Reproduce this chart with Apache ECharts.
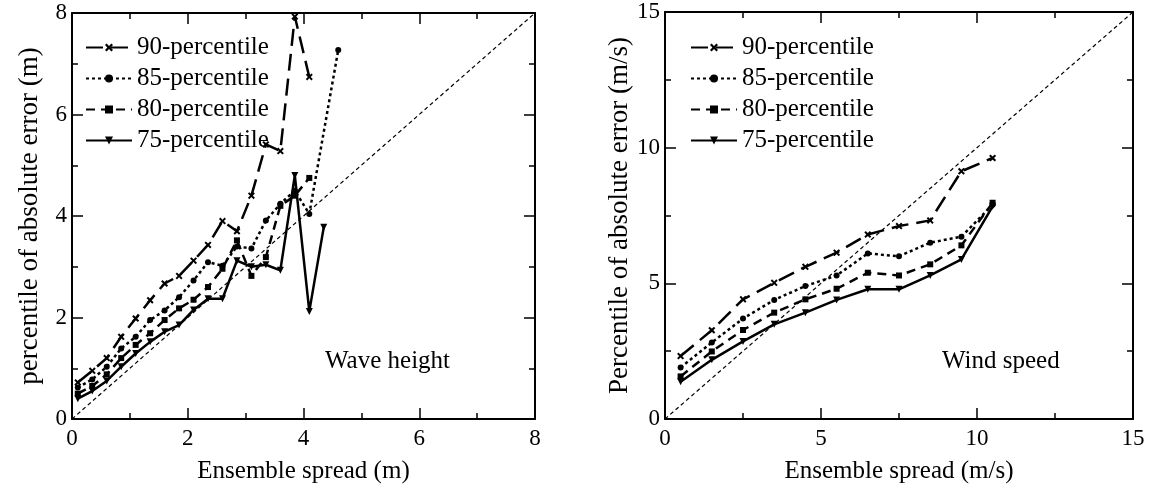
<!DOCTYPE html>
<html><head><meta charset="utf-8">
<script src="https://cdn.jsdelivr.net/npm/echarts@6/dist/echarts.min.js"></script>
<style>html,body{margin:0;padding:0;background:#fff}#c{width:1154px;height:489px}</style>
</head><body><div id="c"></div>
<script>
// ---- data ----
const seriesNames = ['90-percentile', '85-percentile', '80-percentile', '75-percentile'];

const waveX = [0.1, 0.35, 0.6, 0.85, 1.1, 1.35, 1.6, 1.85, 2.1, 2.35, 2.6, 2.85, 3.1, 3.35, 3.6, 3.85, 4.1, 4.35, 4.6];
const wave90 = [0.72, 0.95, 1.2, 1.62, 1.98, 2.34, 2.67, 2.82, 3.12, 3.43, 3.9, 3.7, 4.4, 5.41, 5.28, 7.93, 6.74];
const wave85 = [0.62, 0.78, 1.03, 1.39, 1.62, 1.95, 2.14, 2.4, 2.73, 3.09, 3.02, 3.4, 3.36, 3.91, 4.24, 4.5, 4.04, null, 7.27];
const wave80 = [0.5, 0.65, 0.88, 1.2, 1.46, 1.69, 1.95, 2.18, 2.35, 2.6, 2.96, 3.52, 2.82, 3.19, 4.2, 4.4, 4.75];
const wave75 = [0.4, 0.55, 0.75, 1.03, 1.29, 1.52, 1.72, 1.85, 2.15, 2.37, 2.37, 3.12, 3.0, 3.04, 2.93, 4.8, 2.12, 3.78];

const windX = [0.5, 1.5, 2.5, 3.5, 4.5, 5.5, 6.5, 7.5, 8.5, 9.5, 10.5];
const wind90 = [2.32, 3.27, 4.41, 5.02, 5.61, 6.13, 6.8, 7.11, 7.32, 9.13, 9.62];
const wind85 = [1.9, 2.82, 3.7, 4.39, 4.9, 5.29, 6.1, 6.0, 6.5, 6.72, 7.9];
const wind80 = [1.57, 2.49, 3.28, 3.92, 4.41, 4.8, 5.39, 5.29, 5.7, 6.4, 7.97];
const wind75 = [1.37, 2.18, 2.86, 3.49, 3.92, 4.39, 4.78, 4.78, 5.29, 5.88, 7.84];

const waveTicks = [0, 8, 2];   // min, max, interval
const windTicks = [0, 15, 5];

// ---- chart ----
const FONT = '"Liberation Serif", "Times New Roman", serif';
const crossPath = 'path://M0,2L2,0L5,3L8,0L10,2L7,5L10,8L8,10L5,7L2,10L0,8L3,5Z';
const styleOf = {
  '90-percentile': { type: [17, 8], symbol: crossPath, size: 7, rotate: 0 },
  '85-percentile': { type: [3, 3], symbol: 'circle', size: 6, rotate: 0 },
  '80-percentile': { type: [9, 6], symbol: 'rect', size: 6, rotate: 0 },
  '75-percentile': { type: 'solid', symbol: 'triangle', size: 7, rotate: 180 }
};
function pairs(xs, ys) {
  const out = [];
  ys.forEach((y, i) => { if (y != null) out.push([xs[i], y]); });
  return out;
}
function mkAxis(kind, grid, pos, t, labels, name, gap, nameSize) {
  return {
    type: 'value', gridIndex: grid, position: pos,
    min: t[0], max: t[1], interval: t[2],
    name: name || '', nameLocation: 'middle', nameGap: gap || 0,
    nameTextStyle: { fontFamily: FONT, fontSize: nameSize || 24, color: '#000' },
    axisLine: { show: true, onZero: false, lineStyle: { color: '#000', width: 2 } },
    axisTick: { show: true, inside: true, length: 11, lineStyle: { color: '#000', width: 1.5 } },
    minorTick: { show: true, splitNumber: 2, length: 6, lineStyle: { color: '#000', width: 1.5 } },
    splitLine: { show: false }, minorSplitLine: { show: false },
    axisLabel: { show: labels, fontFamily: FONT, fontSize: 23, color: '#000', margin: kind === 'x' ? 8 : 5 }
  };
}
const xAxis = [
  mkAxis('x', 0, 'bottom', waveTicks, true, 'Ensemble spread (m)', 40, 25),
  mkAxis('x', 0, 'top', waveTicks, false),
  mkAxis('x', 1, 'bottom', windTicks, true, 'Ensemble spread (m/s)', 40, 25),
  mkAxis('x', 1, 'top', windTicks, false)
];
const yAxis = [
  mkAxis('y', 0, 'left', waveTicks, true, 'percentile of absolute error (m)', 29, 27),
  mkAxis('y', 0, 'right', waveTicks, false),
  mkAxis('y', 1, 'left', windTicks, true, 'Percentile of absolute error (m/s)', 28, 27),
  mkAxis('y', 1, 'right', windTicks, false)
];
function lineSeries(name, data, xi, yi) {
  const s = styleOf[name];
  return {
    name, type: 'line', xAxisIndex: xi, yAxisIndex: yi, data,
    symbol: s.symbol, symbolSize: s.size, symbolRotate: s.rotate,
    showAllSymbol: true,
    lineStyle: { color: '#000', width: 2.5, type: s.type },
    itemStyle: { color: '#000' },
    emphasis: { disabled: true }, z: 3
  };
}
function diag(t, xi, yi) {
  return {
    type: 'line', xAxisIndex: xi, yAxisIndex: yi, silent: true,
    data: [[t[0], t[0]], [t[1], t[1]]], symbol: 'none',
    lineStyle: { color: '#000', width: 1.2, type: [4, 3] }, z: 2
  };
}
const waveData = [wave90, wave85, wave80, wave75];
const windData = [wind90, wind85, wind80, wind75];
const series = [diag(waveTicks, 0, 0), diag(windTicks, 2, 2)];
seriesNames.forEach((n, i) => {
  series.push(lineSeries(n, pairs(waveX, waveData[i]), 0, 0));
  series.push(lineSeries(n, pairs(windX, windData[i]), 2, 2));
});
const legendBase = {
  orient: 'vertical', top: 30, itemWidth: 46, itemHeight: 10, itemGap: 6,
  selectedMode: false, data: seriesNames,
  textStyle: { fontFamily: FONT, fontSize: 25, color: '#000', lineHeight: 24, padding: [0, 0, 0, 0] }
};
const option = {
  animation: false,
  backgroundColor: '#fff',
  grid: [
    { left: 72, top: 13, width: 463, height: 408 },
    { left: 665, top: 12, width: 468, height: 408 }
  ],
  xAxis, yAxis, series,
  legend: [
    Object.assign({ left: 80 }, legendBase),
    Object.assign({ left: 685 }, legendBase)
  ],
  graphic: [
    { type: 'text', left: 325, top: 349, style: { text: 'Wave height', font: '25px ' + FONT, fill: '#000' } },
    { type: 'text', left: 942, top: 349, style: { text: 'Wind speed', font: '25px ' + FONT, fill: '#000' } }
  ]
};
const chart = echarts.init(document.getElementById('c'), null, { renderer: 'canvas' });
chart.setOption(option);
</script>
</body></html>
